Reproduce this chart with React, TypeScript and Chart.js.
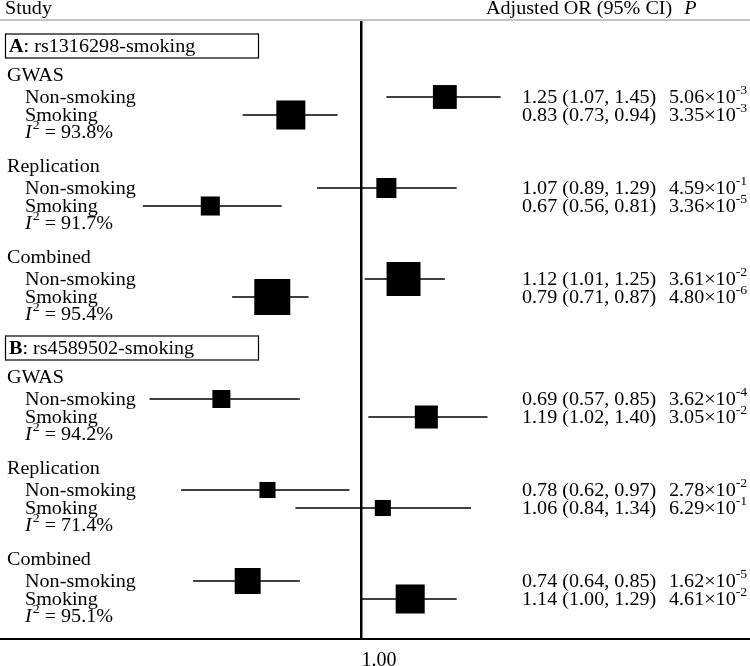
import React, { useEffect, useRef } from "react";
import { Chart, registerables } from "chart.js";

Chart.register(...registerables);

// ---------- data ----------
const panelLetters = ["A", "B"];
const panelSnps = ["rs1316298-smoking", "rs4589502-smoking"];
const groups = ["GWAS", "Replication", "Combined"];
const subgroups = ["Non-smoking", "Smoking"];

// order: panel A (GWAS NS, GWAS S, Repl NS, Repl S, Comb NS, Comb S), then panel B
const orValues = [1.25, 0.83, 1.07, 0.67, 1.12, 0.79, 0.69, 1.19, 0.78, 1.06, 0.74, 1.14];
const ciLower = [1.07, 0.73, 0.89, 0.56, 1.01, 0.71, 0.57, 1.02, 0.62, 0.84, 0.64, 1.0];
const ciUpper = [1.45, 0.94, 1.29, 0.81, 1.25, 0.87, 0.85, 1.4, 0.97, 1.34, 0.85, 1.29];
const pMantissa = ["5.06", "3.35", "4.59", "3.36", "3.61", "4.80", "3.62", "3.05", "2.78", "6.29", "1.62", "4.61"];
const pExponent = ["-3", "-3", "-1", "-5", "-2", "-6", "-4", "-2", "-2", "-1", "-5", "-2"];
const studyWeights = [44, 65, 31, 28, 89, 100, 25, 41, 20, 20, 52, 65];
const i2Values = ["93.8", "91.7", "95.4", "94.2", "71.4", "95.1"];
const tickValues = [1.0];

// ---------- layout ----------
const W = 750;
const H = 666;
const TOP = 20;
const BOTTOM = 639;
const FONT = '"Liberation Serif", "Times New Roman", serif';
const FS = 19;
const SX = 1.06;
const PANEL_STEP = 302;
const BOX_Y = 26;
const GROUP_START = 55;
const GROUP_STEP = 91;
const SUB_OFFSETS = [22, 40];
const I2_OFFSET = 57;
const MAX_SIDE = 36;

const groupY = (p: number, g: number) => p * PANEL_STEP + GROUP_START + g * GROUP_STEP;
const itemY = (i: number) => {
  const p = Math.floor(i / 6);
  const g = Math.floor((i % 6) / 2);
  const s = i % 2;
  return groupY(p, g) + SUB_OFFSETS[s];
};
const fmt = (v: number) => v.toFixed(2);

function txt(
  ctx: CanvasRenderingContext2D,
  s: string,
  x: number,
  y: number,
  size = FS,
  style = "normal",
  weight = "normal"
) {
  ctx.save();
  ctx.font = `${style} ${weight} ${size}px ${FONT}`;
  ctx.fillStyle = "#000";
  ctx.textBaseline = "alphabetic";
  ctx.textAlign = "left";
  ctx.translate(x, y);
  ctx.scale(SX, 1);
  ctx.fillText(s, 0, 0);
  const w = ctx.measureText(s).width * SX;
  ctx.restore();
  return w;
}

const textPlugin = {
  id: "forestText",
  afterDraw(chart: any) {
    const ctx: CanvasRenderingContext2D = chart.ctx;
    const ys = chart.scales.y;
    const py = (v: number) => ys.getPixelForValue(v);

    // header
    txt(ctx, "Study", 5, 14);
    const hw = txt(ctx, "Adjusted OR (95% CI)", 486, 14);
    txt(ctx, "P", 486 + hw + 12, 14, FS, "italic");

    // header separator
    ctx.save();
    ctx.strokeStyle = "#c4c4c4";
    ctx.lineWidth = 2;
    ctx.beginPath();
    ctx.moveTo(0, chart.chartArea.top);
    ctx.lineTo(W, chart.chartArea.top);
    ctx.stroke();
    ctx.restore();

    panelLetters.forEach((letter, p) => {
      const by = py(p * PANEL_STEP + BOX_Y);
      ctx.save();
      ctx.strokeStyle = "#000";
      ctx.lineWidth = 1.2;
      ctx.strokeRect(5.5, by - 12, 253, 24);
      ctx.restore();
      const lw = txt(ctx, letter, 9, by + 6, FS, "normal", "bold");
      txt(ctx, ": " + panelSnps[p], 9 + lw, by + 6);

      groups.forEach((g, gi) => {
        const gy = py(groupY(p, gi));
        txt(ctx, g, 7, gy + 6);
        subgroups.forEach((sg, si) => {
          const i = p * 6 + gi * 2 + si;
          const y = py(itemY(i));
          txt(ctx, sg, 25, y + 6);
          txt(ctx, `${fmt(orValues[i])} (${fmt(ciLower[i])}, ${fmt(ciUpper[i])})`, 522, y + 6);
          const mw = txt(ctx, `${pMantissa[i]}\u00d710`, 669, y + 6);
          txt(ctx, pExponent[i], 669 + mw, y - 3, 13);
        });
        const iy = py(groupY(p, gi) + I2_OFFSET);
        const w1 = txt(ctx, "I", 25, iy + 6, FS, "italic");
        const w2 = txt(ctx, "2", 25 + w1 + 1, iy - 3, 13);
        txt(ctx, ` = ${i2Values[p * 3 + gi]}%`, 25 + w1 + 1 + w2, iy + 6);
      });
    });
  },
};

export default function App() {
  const ref = useRef<HTMLCanvasElement>(null);

  useEffect(() => {
    if (!ref.current) return;
    const ciSets = orValues.map((_, i) => ({
      type: "line" as const,
      data: [
        { x: ciLower[i], y: itemY(i) },
        { x: ciUpper[i], y: itemY(i) },
      ],
      showLine: true,
      borderColor: "#000",
      borderWidth: 1.3,
      pointRadius: 0,
      order: 1,
    }));
    const squares = {
      type: "scatter" as const,
      data: orValues.map((v, i) => ({ x: v, y: itemY(i) })),
      pointStyle: "rect",
      pointRadius: studyWeights.map((w) => (MAX_SIDE * Math.sqrt(w / 100)) / Math.SQRT2),
      pointHoverRadius: studyWeights.map((w) => (MAX_SIDE * Math.sqrt(w / 100)) / Math.SQRT2),
      backgroundColor: "#000",
      borderColor: "#000",
      borderWidth: 0,
      order: 0,
    };

    const chart = new Chart(ref.current, {
      type: "scatter",
      data: { datasets: [squares as any, ...ciSets] },
      plugins: [textPlugin],
      options: {
        animation: false,
        responsive: false,
        devicePixelRatio: 1,
        layout: { autoPadding: false, padding: { top: TOP, left: 0, right: 0, bottom: 0 } },
        plugins: { legend: { display: false }, tooltip: { enabled: false } },
        scales: {
          x: {
            type: "logarithmic",
            min: 0.383,
            max: 2.814,
            afterBuildTicks: (scale: any) => {
              scale.ticks = tickValues.map((v) => ({ value: v }));
            },
            afterFit: (scale: any) => {
              scale.height = H - BOTTOM;
            },
            ticks: {
              callback: (v: any) => Number(v).toFixed(2),
              labelOffset: 18,
              padding: 10,
              color: "#000",
              font: { family: FONT, size: 20 },
              autoSkip: false,
              maxRotation: 0,
            },
            grid: { display: true, color: "#000", lineWidth: 2.5, drawTicks: false, drawOnChartArea: true },
            border: { display: true, color: "#000", width: 2 },
          },
          y: {
            type: "linear",
            display: false,
            min: 0,
            max: BOTTOM - TOP,
            reverse: true,
          },
        },
      },
    });
    return () => chart.destroy();
  }, []);

  return (
    <div style={{ position: "fixed", left: 0, top: 0, width: W, height: H, background: "#fff" }}>
      <canvas ref={ref} width={W} height={H} style={{ display: "block" }} />
    </div>
  );
}
